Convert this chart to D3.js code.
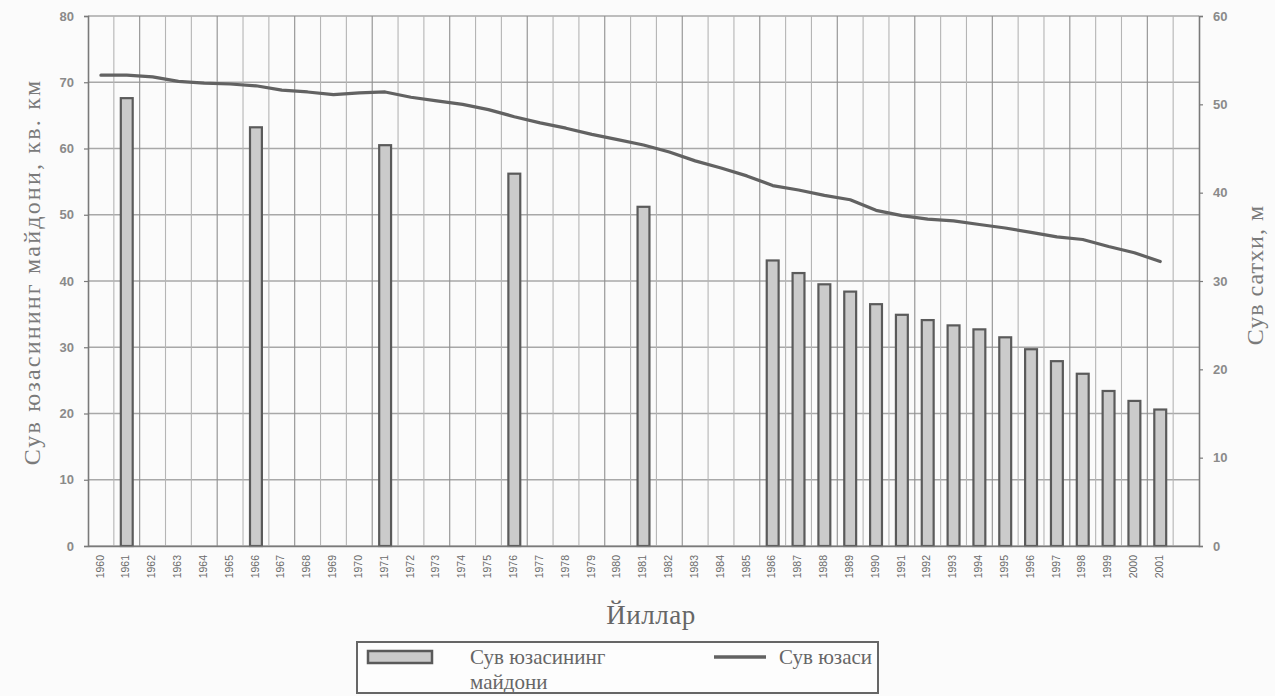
<!DOCTYPE html>
<html>
<head>
<meta charset="utf-8">
<script src="https://cdn.jsdelivr.net/npm/d3@7"></script>
<style>
  html, body { margin: 0; padding: 0; background: #fbfbfb; }
  svg { display: block; }
</style>
</head>
<body>
<svg id="chart" width="1275" height="696"></svg>
<script>
// Category axis: one band per year, plus an empty band at the end
const categories = ["1960","1961","1962","1963","1964","1965","1966","1967","1968","1969",
  "1970","1971","1972","1973","1974","1975","1976","1977","1978","1979",
  "1980","1981","1982","1983","1984","1985","1986","1987","1988","1989",
  "1990","1991","1992","1993","1994","1995","1996","1997","1998","1999",
  "2000","2001",""];

// Water surface area, sq. km (left axis)
const areaYears = ["1961","1966","1971","1976","1981","1986","1987","1988","1989","1990",
  "1991","1992","1993","1994","1995","1996","1997","1998","1999","2000","2001"];
const areaValues = [67.6, 63.2, 60.5, 56.2, 51.2, 43.1, 41.2, 39.5, 38.4, 36.5,
  34.9, 34.1, 33.3, 32.7, 31.5, 29.7, 27.9, 26.0, 23.4, 21.9, 20.6];

// Water level, m (right axis), 1960–2001
const levelYears = categories.slice(0, 42);
const levelValues = [53.3, 53.3, 53.1, 52.6, 52.4, 52.3, 52.1, 51.6, 51.4, 51.1,
  51.3, 51.4, 50.8, 50.4, 50.0, 49.4, 48.6, 47.9, 47.3, 46.6,
  46.0, 45.4, 44.6, 43.6, 42.8, 41.9, 40.8, 40.3, 39.7, 39.2,
  38.0, 37.4, 37.0, 36.8, 36.4, 36.0, 35.5, 35.0, 34.7, 33.9,
  33.2, 32.2];

const leftTicks = [0, 10, 20, 30, 40, 50, 60, 70, 80];
const rightTicks = [0, 10, 20, 30, 40, 50, 60];

const svg = d3.select("#chart");
const L = 88, R = 1199, T = 16, B = 546;

const x = d3.scaleBand().domain(categories).range([L, R]).paddingInner(0).paddingOuter(0);
const yL = d3.scaleLinear().domain([0, 80]).range([B, T]);
const yR = d3.scaleLinear().domain([0, 60]).range([B, T]);

const axisGrey = "#7a7a7a";
const gridGrey = "#a8a8a8";

// Horizontal grid lines
svg.append("g").selectAll("line").data(leftTicks).join("line")
  .attr("x1", L).attr("x2", R)
  .attr("y1", d => yL(d)).attr("y2", d => yL(d))
  .attr("stroke", gridGrey).attr("stroke-width", 1.3);

// Vertical grid lines at band boundaries
svg.append("g").selectAll("line").data(categories.slice(1)).join("line")
  .attr("x1", d => x(d)).attr("x2", d => x(d))
  .attr("y1", T).attr("y2", B)
  .attr("stroke", (d, i) => i % 3 === 1 ? "#8f8f8f" : "#b5b5b5")
  .attr("stroke-width", 1.1);

// Bars
const bw = x.bandwidth() * 0.46;
svg.append("g").selectAll("rect").data(areaYears).join("rect")
  .attr("x", (d) => x(d) + x.bandwidth() / 2 - bw / 2)
  .attr("y", (d, i) => yL(areaValues[i]))
  .attr("width", bw)
  .attr("height", (d, i) => B - yL(areaValues[i]))
  .attr("fill", "#cbcbcb")
  .attr("stroke", "#5a5a5a")
  .attr("stroke-width", 2.2);

// Level line
const line = d3.line()
  .x((d, i) => x(levelYears[i]) + x.bandwidth() / 2)
  .y(d => yR(d))
  .curve(d3.curveLinear);
svg.append("path").datum(levelValues)
  .attr("d", line)
  .attr("fill", "none")
  .attr("stroke", "#626262")
  .attr("stroke-width", 3.2)
  .attr("stroke-linejoin", "round")
  .attr("stroke-linecap", "round");

// Left axis
const leftAxis = d3.axisLeft(yL).tickValues(leftTicks).tickSize(4).tickPadding(10);
const gL = svg.append("g").attr("transform", `translate(${L},0)`).call(leftAxis);
// Right axis
const rightAxis = d3.axisRight(yR).tickValues(rightTicks).tickSize(4).tickPadding(10);
const gR = svg.append("g").attr("transform", `translate(${R},0)`).call(rightAxis);
// Bottom axis
const bottomAxis = d3.axisBottom(x).tickSize(0).tickPadding(0);
const gB = svg.append("g").attr("transform", `translate(0,${B})`).call(bottomAxis);

[gL, gR, gB].forEach(g => {
  g.select(".domain").attr("stroke", axisGrey).attr("stroke-width", 1.6);
  g.selectAll(".tick line").attr("stroke", axisGrey).attr("stroke-width", 1.2);
});
[gL, gR].forEach(g => g.selectAll(".tick text")
  .attr("font-family", "Liberation Sans, Arial, sans-serif")
  .attr("font-size", 13).attr("font-weight", "bold").attr("fill", "#8a8a8a"));

gB.selectAll(".tick text")
  .attr("font-family", "Liberation Sans, Arial, sans-serif")
  .attr("font-size", 10.5).attr("fill", "#6a6a6a")
  .attr("transform", "translate(-1,9) rotate(-90)")
  .attr("text-anchor", "end")
  .attr("dy", "0.35em")
  .attr("x", 0).attr("y", 0);

// Axis titles
const serif = "Liberation Serif, Times New Roman, serif";
svg.append("text")
  .attr("transform", "translate(40,272) rotate(-90)")
  .attr("text-anchor", "middle")
  .attr("font-family", serif).attr("font-size", 24).attr("letter-spacing", 2.2)
  .attr("fill", "#7a7a7a")
  .text("Сув юзасининг майдони, кв. км");

svg.append("text")
  .attr("transform", "translate(1263,275) rotate(-90)")
  .attr("text-anchor", "middle")
  .attr("font-family", serif).attr("font-size", 24).attr("letter-spacing", 1)
  .attr("fill", "#7a7a7a")
  .text("Сув сатхи, м");

svg.append("text")
  .attr("x", 651).attr("y", 624)
  .attr("text-anchor", "middle")
  .attr("font-family", serif).attr("font-size", 27).attr("letter-spacing", 0.5)
  .attr("fill", "#666")
  .text("Йиллар");

// Legend
const lg = svg.append("g");
lg.append("rect").attr("x", 357).attr("y", 642).attr("width", 521).attr("height", 51)
  .attr("fill", "#fdfdfd").attr("stroke", "#666").attr("stroke-width", 2);
lg.append("rect").attr("x", 368).attr("y", 651).attr("width", 64).attr("height", 12)
  .attr("fill", "#cbcbcb").attr("stroke", "#5a5a5a").attr("stroke-width", 2.5);
lg.append("text").attr("x", 470).attr("y", 664)
  .attr("font-family", serif).attr("font-size", 21).attr("fill", "#666")
  .text("Сув юзасининг");
lg.append("text").attr("x", 470).attr("y", 689)
  .attr("font-family", serif).attr("font-size", 21).attr("fill", "#666")
  .text("майдони");
lg.append("line").attr("x1", 714).attr("x2", 766).attr("y1", 657).attr("y2", 657)
  .attr("stroke", "#626262").attr("stroke-width", 3.5);
lg.append("text").attr("x", 779).attr("y", 664)
  .attr("font-family", serif).attr("font-size", 21).attr("fill", "#666")
  .text("Сув юзаси");
</script>
</body>
</html>
